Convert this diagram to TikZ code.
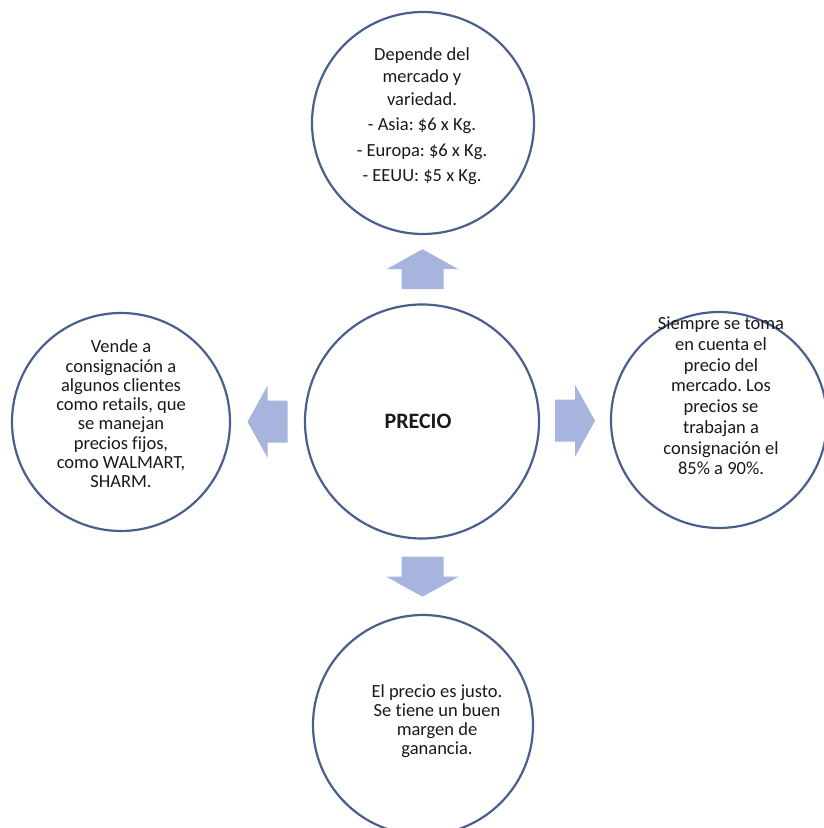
\documentclass[tikz,border=0pt]{standalone}
\usepackage{fontspec}
\setmainfont{Carlito}[Ligatures=NoCommon]
\usepackage{tikz}
\usetikzlibrary{calc}
\definecolor{ringblue}{HTML}{4A5F8C}
\definecolor{arrowblue}{HTML}{A6B4DE}
\frenchspacing

\begin{document}
\begin{tikzpicture}[x=1pt,y=1pt,
        bubble/.style={draw=ringblue,line width=2.2pt,circle,inner sep=0pt},
        bubbletext/.style={align=center,inner sep=0pt,text=black!90},
        tight/.style={font=\fontsize{18.5}{#1}\selectfont}]
    \useasboundingbox (0,0) rectangle (823,828);

    \node[bubble,minimum size=234pt] (precio) at (422,406.5) {};
    \node[bubble,minimum size=222pt] (mercado) at (423,705) {};
    \node[bubble,minimum size=218pt] (consigna) at (121,406) {};
    \node[bubble,minimum size=216pt] (toma) at (719,408) {};
    \node[bubble,minimum size=220pt] (margen) at (423,103) {};

    \node[bubbletext,font=\fontsize{22}{26}\bfseries] (precio text) at (418,407) {PRECIO};
    \node[bubbletext,tight=22.5] (mercado text) at (422,712)
        {Depende del\\ mercado y\\ variedad.\\[3pt] - Asia: \$6 x Kg.\\[3pt] - Europa: \$6 x Kg.\\[3pt] - EEUU: \$5 x Kg.};
    \node[bubbletext,tight=19.3] (consigna text) at (121,414)
        {Vende a\\ consignación a\\ algunos clientes\\ como retails, que\\ se manejan\\ precios fijos,\\ como WALMART,\\ SHARM.};
    \node[bubbletext,tight=20.7] (toma text) at (721,432)
        {Siempre se toma\\ en cuenta el\\ precio del\\ mercado. Los\\ precios se\\ trabajan a\\ consignación el\\ 85\% a 90\%.};
    \node[bubbletext,tight=19] (margen text) at (437,107)
        {El precio es justo.\\ Se tiene un buen\\ margen de\\ ganancia.};

    % block arrows half way between the rings
    \coordinate (up) at ($(precio.north)!0.5!(mercado.south)$);
    \coordinate (left) at ($(precio.west)!0.5!(consigna.east)$);
    \coordinate (right) at ($(precio.east)!0.5!(toma.west)$);
    \coordinate (down) at ($(precio.south)!0.5!(margen.north)$);
    \foreach \c/\ang in {up/90,left/180,right/0,down/270}{
        \fill[arrowblue,shift={(\c)},rotate=\ang]
            (-20,-21) -- (0,-21) -- (0,-36) -- (20,0) -- (0,36) -- (0,21) -- (-20,21) -- cycle;
    }
\end{tikzpicture}
\end{document}
